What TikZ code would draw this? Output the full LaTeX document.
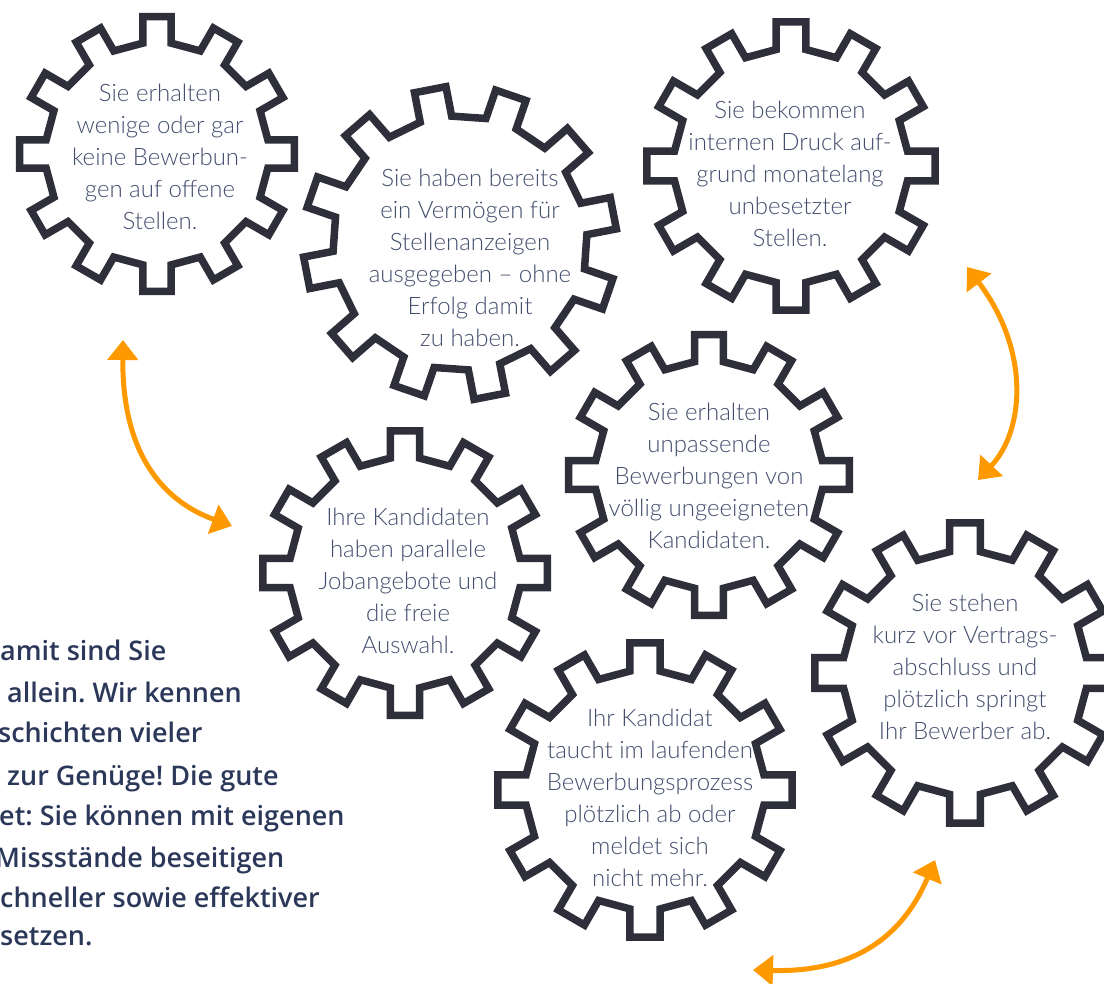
\documentclass[tikz,border=0pt]{standalone}
\usepackage{fontspec}
\usetikzlibrary{arrows.meta}
\frenchspacing
\IfFontExistsTF{Lato Light}{\newfontfamily\gfont{Lato Light}}{\newfontfamily\gfont{Lato}}
\IfFontExistsTF{Open Sans SemiBold}{\newfontfamily\bfont{Open Sans SemiBold}}{%
  \IfFontExistsTF{Open Sans Semibold}{\newfontfamily\bfont{Open Sans Semibold}}{\newfontfamily\bfont{Open Sans Bold}}}
\definecolor{gearc}{RGB}{46,47,58}
\definecolor{txtc}{RGB}{66,77,108}
\definecolor{boldc}{RGB}{44,56,90}
\definecolor{orng}{RGB}{255,153,0}
\newcommand\drawgear[4]{%
  \pgfmathsetmacro\gRo{#3}%
  \pgfmathsetmacro\gRr{#3*0.81}%
  \pgfmathsetmacro\ghw{#3*0.102}%
  \pgfmathsetmacro\gar{asin(\ghw/\gRr)}%
  \pgfmathsetmacro\gao{asin(\ghw/\gRo)}%
  \draw[gear, shift={(#1,#2)}] ({#4-\gao}:\gRo) -- ({#4+\gao}:\gRo) -- ({#4+\gar}:\gRr)
    \foreach \i in {1,...,11}{ -- ({#4+30*\i-\gar}:\gRr) -- ({#4+30*\i-\gao}:\gRo) -- ({#4+30*\i+\gao}:\gRo) -- ({#4+30*\i+\gar}:\gRr)}
    -- ({#4-\gar}:\gRr) -- cycle;
}
\begin{document}
\begin{tikzpicture}[x=1pt,y=-1pt,
  gear/.style={draw=gearc, line width=7.5pt, miter limit=10},
  gtext/.style={text=txtc, align=center, inner sep=0pt, font=\gfont\fontsize{24}{32}\selectfont},
  btext/.style={text=boldc, anchor=base west, inner sep=0pt, font=\bfont\fontsize{27}{30}\selectfont},
  arr/.style={draw=orng, line width=5pt, >={Triangle[length=20pt,width=30pt]}, <->}]
\useasboundingbox (0,0) rectangle (1104,984);
% gears
\drawgear{157}{154}{138}{0}
\drawgear{460}{243}{157}{-11}
\drawgear{791}{166}{145}{0}
\drawgear{405}{573}{143}{0}
\drawgear{709}{475}{141}{0}
\drawgear{965}{673}{151}{0}
\drawgear{645}{790}{148}{0}
% gear texts
\node[gtext] (n1) at (160,157) {Sie erhalten\\wenige oder gar\\keine Bewerbun-\\gen auf offene\\Stellen.};
\node[gtext] (n2) at (470,258) {Sie haben bereits\\ein Vermögen für\\Stellenanzeigen\\ausgegeben – ohne\\Erfolg damit\\zu haben.};
\node[gtext] (n3) at (790,174) {Sie bekommen\\internen Druck auf-\\grund monatelang\\unbesetzter\\Stellen.};
\node[gtext] (n4) at (408,581) {Ihre Kandidaten\\haben parallele\\Jobangebote und\\die freie\\Auswahl.};
\node[gtext] (n5) at (709,476) {Sie erhalten\\unpassende\\Bewerbungen von\\völlig ungeeigneten\\Kandidaten.};
\node[gtext] (n6) at (965,667) {Sie stehen\\kurz vor Vertrags-\\abschluss und\\plötzlich springt\\Ihr Bewerber ab.};
\node[gtext] (n7) at (650,798) {Ihr Kandidat\\taucht im laufenden\\Bewerbungsprozess\\plötzlich ab oder\\meldet sich\\nicht mehr.};
% bottom-left text
\node[btext] (b1) at (0,660) {amit sind Sie};
\node[btext] (b2) at (7,702) {allein. Wir kennen};
\node[btext] (b3) at (-2,742) {schichten vieler};
\node[btext] (b4) at (7,785) {zur Genüge! Die gute};
\node[btext] (b5) at (-1,825) {et: Sie können mit eigenen};
\node[btext] (b6) at (-5,867) {Missstände beseitigen};
\node[btext] (b7) at (0,907) {chneller sowie effektiver};
\node[btext] (b8) at (0,945) {setzen.};
% arrows
\coordinate (a1s) at (123,340);
\coordinate (a1e) at (232,526);
\draw[arr] (a1s) .. controls (122,450) and (160,500) .. (a1e);
\coordinate (a2s) at (967,267);
\coordinate (a2e) at (978,480);
\draw[arr] (a2s) .. controls (1030,350) and (1025,430) .. (a2e);
\coordinate (a3s) at (753,970);
\coordinate (a3e) at (935,860);
\draw[arr] (a3s) .. controls (830,972) and (895,955) .. (a3e);
\end{tikzpicture}
\end{document}
